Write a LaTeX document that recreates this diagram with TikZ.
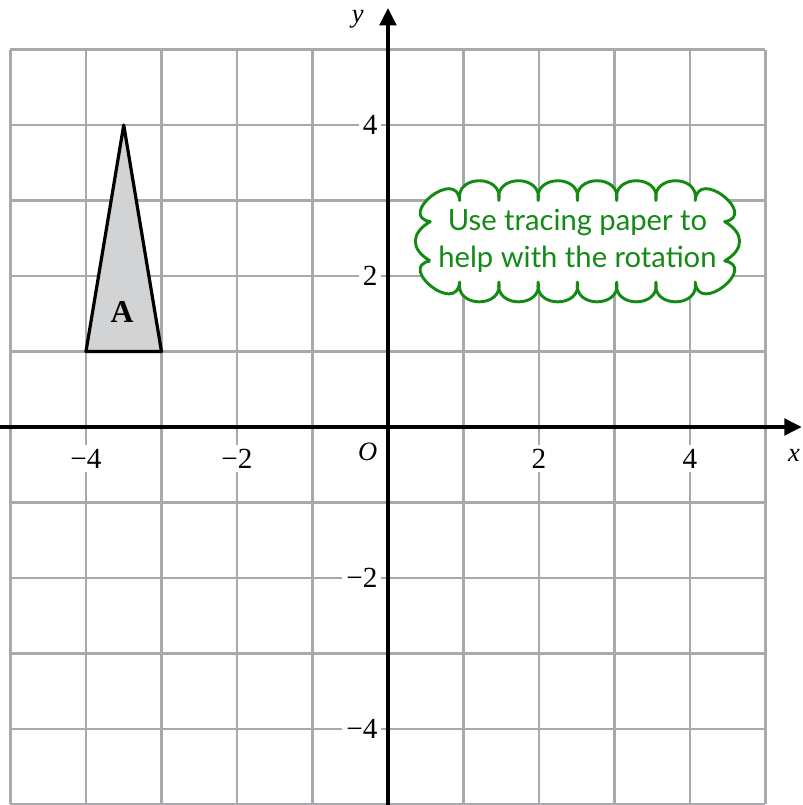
\documentclass[tikz,border=0pt]{standalone}
\usepackage{fontspec}
\setmainfont{Liberation Serif}
\newfontfamily\hintfont{Lato}
\usetikzlibrary{arrows.meta}
\definecolor{gridgray}{HTML}{A7A9AC}
\definecolor{trigray}{HTML}{D1D3D4}
\definecolor{hintgreen}{HTML}{138A13}
\tikzset{
  ticklab/.style={fill=white, inner sep=1.5pt, font=\fontsize{11}{13}\selectfont},
  hintline/.style={draw=hintgreen, line width=1.1pt, fill=white, line join=round},
  hinttext/.style={text=hintgreen, align=center, font=\hintfont\fontsize{11}{14}\selectfont, inner sep=0pt}
}

\begin{document}
\begin{tikzpicture}[x=1cm,y=1cm]
\useasboundingbox (-5.139,-5.007) rectangle (5.497,5.656);
% grid
\draw[gridgray, line width=0.9pt] (-5,-5) grid (5,5);
% axes
\draw[line width=1.25pt, -{Triangle[length=2.3mm,width=2.2mm]}] (-5.139,0) -- (5.48,0);
\draw[line width=1.25pt, -{Triangle[length=2.3mm,width=2.2mm]}] (0,-5.007) -- (0,5.55);
\node (xlab) at (5.38,-0.37) {\textit{x}};
\node (ylab) at (-0.4,5.4) {\textit{y}};
\node (olab) at (-0.27,-0.33) {\textit{O}};
\foreach \v/\lab in {-4/−4,-2/−2,2/2,4/4}{
  \node[ticklab] (xt\v) at (\v,-0.42) {\lab};
}
\foreach \v/\lab in {4/4,2/2,-2/−2,-4/−4}{
  \node[ticklab, anchor=east] (yt\v) at (-0.08,\v) {\lab};
}
% shape A
\draw[fill=trigray, line width=1.2pt, line join=round] (-4,1) -- (-3,1) -- (-3.5,4) -- cycle;
\node[font=\bfseries\fontsize{12}{14}\selectfont] (shapeA) at (-3.52,1.53) {A};
% hint cloud
\coordinate (hintc) at (2.51,2.46);
\begin{scope}[shift={(hintc)}]
\path[hintline] (-1.95,-0.26) to[out=150,in=210,looseness=1.5] (-1.95,0.26)
  to[out=170,in=95,looseness=2.4] (-1.56,0.54)
  \foreach \px in {-1.04,-0.52,0,0.52,1.04,1.56}{ to[out=100,in=80,looseness=1.75] (\px,0.54) }
  to[out=85,in=10,looseness=2.4] (1.95,0.26)
  to[out=-30,in=30,looseness=1.5] (1.95,-0.26)
  to[out=-10,in=-85,looseness=2.4] (1.56,-0.54)
  \foreach \px in {1.04,0.52,0,-0.52,-1.04,-1.56}{ to[out=-80,in=-100,looseness=1.75] (\px,-0.54) }
  to[out=-95,in=190,looseness=2.4] (-1.95,-0.26);
\end{scope}
\node[hinttext] (hint) at (hintc) {Use tracing paper to\\help with the rotation};
\end{tikzpicture}
\end{document}
